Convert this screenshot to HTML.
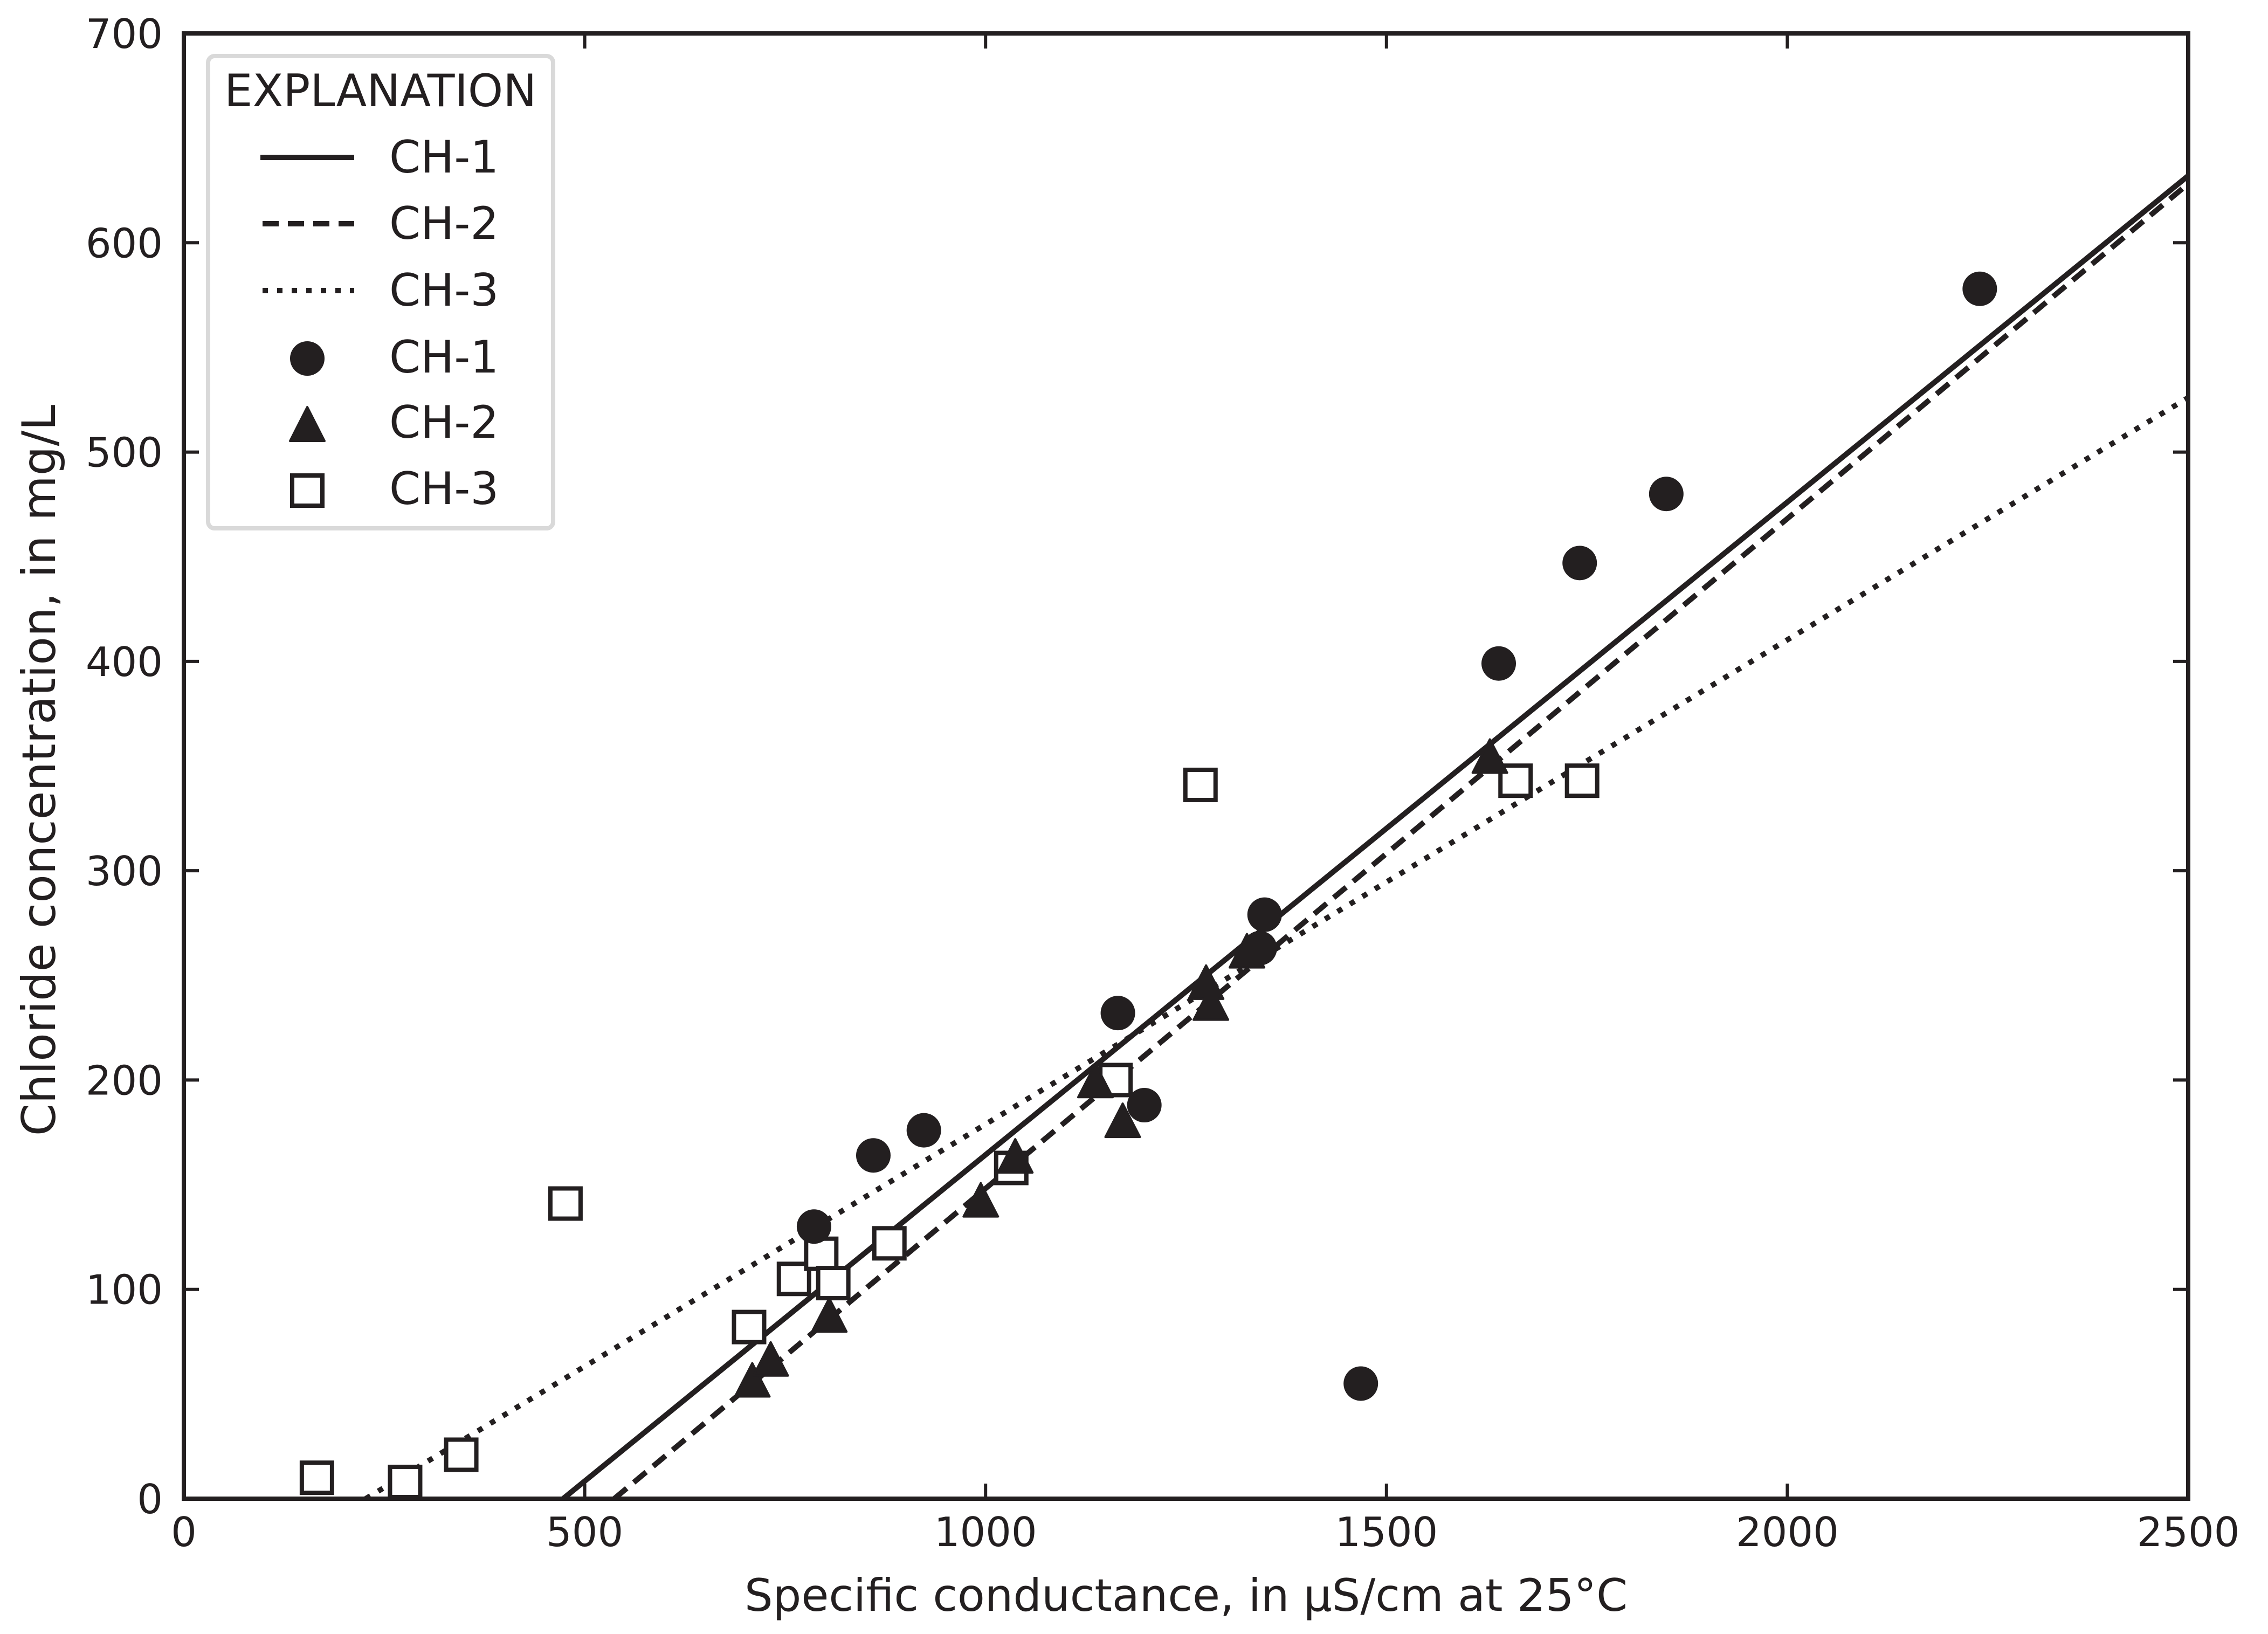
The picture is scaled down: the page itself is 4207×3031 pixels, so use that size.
<!DOCTYPE html>
<html><head><meta charset="utf-8"><style>
html,body{margin:0;padding:0;background:#fff;}
svg{display:block;font-family:"DejaVu Sans","Liberation Sans",sans-serif;}
</style></head><body>
<svg id="chart" width="4207" height="3031" viewBox="0 0 4207 3031" xmlns="http://www.w3.org/2000/svg">
<defs><clipPath id="plotclip"><rect x="341" y="62" width="3718" height="2718"/></clipPath></defs>
<g id="lines" clip-path="url(#plotclip)"></g>
<g id="marks"></g>
<rect x="341" y="62" width="3718" height="2718" fill="none" stroke="#231f20" stroke-width="8"/>
<g id="ticks"></g>
<text x="2200" y="2988" font-size="83" text-anchor="middle" fill="#231f20">Specific conductance, in µS/cm at 25°C</text>
<text transform="translate(102,1429) rotate(-90)" font-size="86" text-anchor="middle" fill="#231f20">Chloride concentration, in mg/L</text>
<g id="legend">
<rect x="386" y="104" width="640" height="876" rx="12" fill="#fff" stroke="#d9d9d9" stroke-width="8"/>
<text x="416" y="197" font-size="83" fill="#231f20">EXPLANATION</text>
<line x1="483" y1="292" x2="657" y2="292" stroke="#231f20" stroke-width="10"/>
<text x="722" y="320" font-size="83" fill="#231f20">CH-1</text>
<line x1="487" y1="415" x2="657" y2="415" stroke="#231f20" stroke-width="10" stroke-dasharray="30 17"/>
<text x="722" y="443" font-size="83" fill="#231f20">CH-2</text>
<line x1="487" y1="539" x2="657" y2="539" stroke="#231f20" stroke-width="10" stroke-dasharray="10 17"/>
<text x="722" y="567" font-size="83" fill="#231f20">CH-3</text>
<circle cx="570" cy="665" r="32" fill="#231f20"/>
<text x="722" y="691" font-size="83" fill="#231f20">CH-1</text>
<polygon points="570,755 602,818 538,818" fill="#231f20" stroke="#231f20" stroke-width="4" stroke-linejoin="round"/>
<text x="722" y="812" font-size="83" fill="#231f20">CH-2</text>
<rect x="542" y="882" width="56" height="56" fill="#fff" stroke="#231f20" stroke-width="8"/>
<text x="722" y="935" font-size="83" fill="#231f20">CH-3</text>
</g>
</svg>
<script>
const xTicks = [0, 500, 1000, 1500, 2000, 2500];
const yTicks = [0, 100, 200, 300, 400, 500, 600, 700];
const ch1X = [786, 860, 923, 1165, 1198, 1342, 1348, 1468, 1640, 1741, 1849, 2240];
const ch1Y = [130, 164, 176, 232, 188, 263, 279, 55, 399, 447, 480, 578];
const ch2X = [709, 732, 805, 994, 1037, 1137, 1171, 1275, 1281, 1326, 1629];
const ch2Y = [56, 66, 87, 142, 163, 199, 180, 246, 236, 261, 354];
const ch3X = [166, 276, 346, 476, 705, 761, 795, 810, 880, 1032, 1162, 1268, 1661, 1744];
const ch3Y = [10, 8, 21, 141, 82, 105, 117, 103, 122, 158, 200, 341, 343, 343];
const fitSlopes = [0.3118, 0.3200, 0.2314];
const fitIntercepts = [-147.5, -171.8, -52.5];
const fitNames = ['CH-1', 'CH-2', 'CH-3'];

const NS = 'http://www.w3.org/2000/svg';
const L = 341, R = 4059, T = 62, B = 2780;
function sx(v){ return L + (v - 0) / 2500 * (R - L); }
function sy(v){ return B - (v - 0) / 700 * (B - T); }
function mk(tag, attrs, parent){
  const e = document.createElementNS(NS, tag);
  for (const k in attrs) e.setAttribute(k, attrs[k]);
  parent.appendChild(e); return e;
}
const ticks = document.getElementById('ticks');
xTicks.forEach(v => {
  const x = sx(v);
  const t1 = mk('line', {x1:x, y1:B, x2:x, y2:B-28, stroke:'#231f20', 'stroke-width':6}, ticks);
  
  
  const t2 = mk('line', {x1:x, y1:T, x2:x, y2:T+28, stroke:'#231f20', 'stroke-width':6}, ticks);
  
  
  const lb = mk('text', {x:x, y:2868, 'font-size':75, 'text-anchor':'middle', fill:'#231f20'}, ticks);
  lb.textContent = v;
  
  
});
yTicks.forEach(v => {
  const y = sy(v);
  const t1 = mk('line', {x1:L, y1:y, x2:L+28, y2:y, stroke:'#231f20', 'stroke-width':6}, ticks);
  
  
  const t2 = mk('line', {x1:R, y1:y, x2:R-28, y2:y, stroke:'#231f20', 'stroke-width':6}, ticks);
  
  
  const lb = mk('text', {x:302, y:y+27, 'font-size':75, 'text-anchor':'end', fill:'#231f20'}, ticks);
  lb.textContent = v;
  
  
});
const lines = document.getElementById('lines');
const dashes = [null, '30 17', '10 17'];
fitSlopes.forEach((m, i) => {
  const b = fitIntercepts[i];
  const x0 = -b / m, x1 = 2500;
  const a = {x1:sx(x0), y1:sy(m*x0+b), x2:sx(x1), y2:sy(m*x1+b), stroke:'#231f20', 'stroke-width':10, fill:'none'};
  if (dashes[i]) a['stroke-dasharray'] = dashes[i];
  const ln = mk('line', a, lines);
  
  
});
const marks = document.getElementById('marks');
ch3X.forEach((v, i) => {
  const x = sx(v), y = sy(ch3Y[i]);
  const r = mk('rect', {x:x-28, y:y-28, width:56, height:56, fill:'#fff', stroke:'#231f20', 'stroke-width':8}, marks);
  
  
});
ch2X.forEach((v, i) => {
  const x = sx(v), y = sy(ch2Y[i]);
  const p = mk('polygon', {points:`${x},${y-34} ${x+32},${y+28} ${x-32},${y+28}`, fill:'#231f20', stroke:'#231f20', 'stroke-width':4, 'stroke-linejoin':'round'}, marks);
  
  
});
ch1X.forEach((v, i) => {
  const c = mk('circle', {cx:sx(v), cy:sy(ch1Y[i]), r:32, fill:'#231f20'}, marks);
  
  
});
</script>
</body></html>
